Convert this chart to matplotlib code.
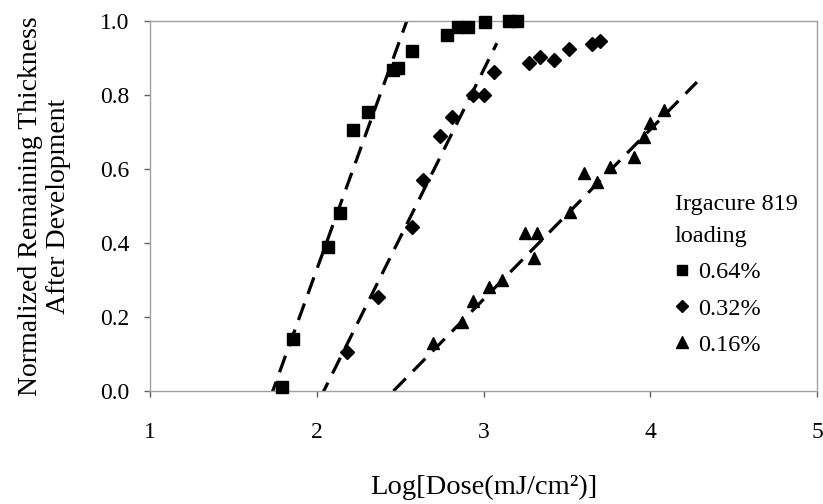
import numpy as np
import matplotlib
matplotlib.use("Agg")
import matplotlib.pyplot as plt
from matplotlib.lines import Line2D

# data
dose_064 = [1.79, 1.86, 2.07, 2.14, 2.22, 2.31, 2.46, 2.49, 2.57, 2.78, 2.85, 2.91, 3.01, 3.15, 3.20]
thick_064 = [0.01, 0.14, 0.39, 0.48, 0.705, 0.754, 0.868, 0.873, 0.92, 0.962, 0.984, 0.984, 0.997, 1.0, 1.0]

dose_032 = [2.18, 2.37, 2.57, 2.64, 2.74, 2.81, 2.94, 3.00, 3.06, 3.27, 3.34, 3.42, 3.51, 3.65, 3.70]
thick_032 = [0.105, 0.254, 0.443, 0.57, 0.69, 0.74, 0.80, 0.80, 0.862, 0.886, 0.903, 0.895, 0.924, 0.938, 0.946]

dose_016 = [2.70, 2.87, 2.94, 3.03, 3.11, 3.25, 3.32, 3.30, 3.52, 3.60, 3.68, 3.76, 3.90, 3.96, 4.00, 4.08]
thick_016 = [0.13, 0.187, 0.243, 0.28, 0.30, 0.427, 0.427, 0.36, 0.484, 0.59, 0.565, 0.605, 0.632, 0.687, 0.724, 0.76]

# dashed trend lines (end points)
fit_064_x = [1.72, 2.54]
fit_064_y = [-0.02, 1.0]
fit_032_x = [2.02, 3.08]
fit_032_y = [-0.02, 0.94]
fit_016_x = [2.46, 4.28]
fit_016_y = [0.0, 0.835]

labels = ["0.64%", "0.32%", "0.16%"]

plt.rcParams['font.family'] = ['Liberation Serif', 'DejaVu Serif']

fig = plt.figure(figsize=(8.23, 5.04), dpi=100)
ax = fig.add_axes([150/823, 113/504, 667/823, 370/504])

#dashed lines
dash = dict(color='black', lw=2.3, dashes=(5.5, 3.2), zorder=2)
ax.plot(fit_064_x, fit_064_y, **dash)
ax.plot(fit_032_x, fit_032_y, **dash)
ax.plot(fit_016_x, fit_016_y, **dash)

#markers
ax.plot(dose_064, thick_064, 's', color='black', ms=8, ls='none', zorder=3, clip_on=False)
ax.plot(dose_032, thick_032, 'D', color='black', ms=7, ls='none', zorder=3, clip_on=False)
ax.plot(dose_016, thick_016, '^', color='black', ms=9, ls='none', zorder=3, clip_on=False)

ax.set_xlim(1, 5)
ax.set_ylim(0, 1)
ax.set_xticks([1, 2, 3, 4, 5])
ax.set_yticks(np.arange(0, 1.01, 0.2))
ax.set_yticklabels(["%.1f" % v for v in np.arange(0, 1.01, 0.2)])

for s in ax.spines.values():
    s.set_color('#a0a0a0')
    s.set_linewidth(1.0)

ax.tick_params(axis='both', labelsize=17, color='#606060', length=4, width=1)
ax.tick_params(axis='x', pad=18)
ax.tick_params(axis='y', pad=11)

ax.set_xlabel('Log[Dose(mJ/cm²)]', fontsize=20.5, labelpad=23)
ax.set_ylabel('Normalized Remaining Thickness\nAfter Development', fontsize=20,
              labelpad=21, linespacing=1.15)

handles = [Line2D([], [], marker='s', color='black', ls='none', ms=6.5),
           Line2D([], [], marker='D', color='black', ls='none', ms=6.5),
           Line2D([], [], marker='^', color='black', ls='none', ms=8.5)]
leg = ax.legend(handles, labels, title='Irgacure 819\nloading', frameon=False,
                loc='upper left', bbox_to_anchor=(0.787, 0.532), fontsize=17.5,
                title_fontsize=17.5, handlelength=0.6, handletextpad=0.35,
                labelspacing=0.58, alignment='left', borderaxespad=0, borderpad=0)
leg.get_title().set_linespacing(1.7)

fig.savefig('out.png', dpi=100)
